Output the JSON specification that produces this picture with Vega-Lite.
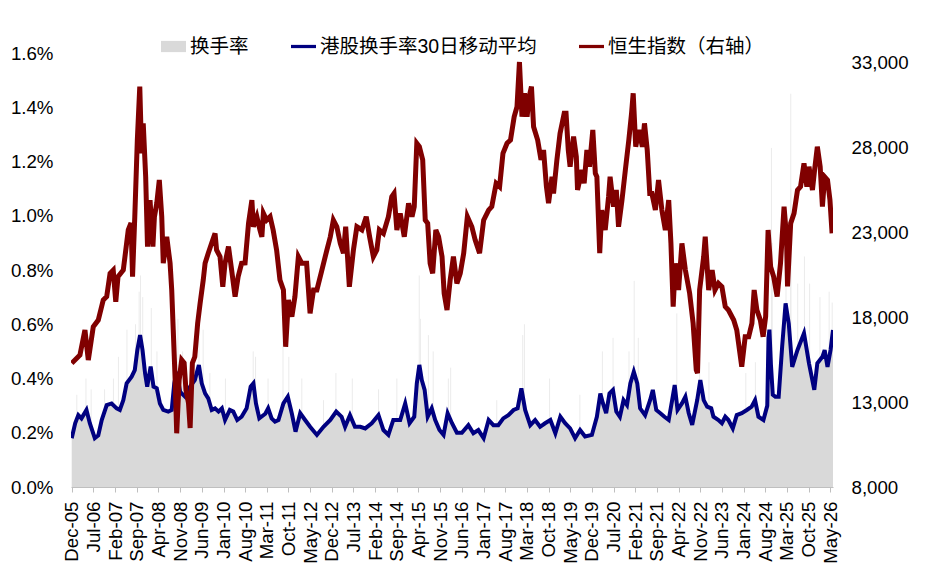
{
  "$schema": "https://vega.github.io/schema/vega-lite/v6.json",
  "autosize": {"type": "none"},
  "width": 762,
  "height": 434,
  "padding": {"left": 71, "top": 53, "right": 100, "bottom": 99},
  "background": "white",
  "config": {
    "view": {"stroke": null},
    "axis": {"labelFont": "Liberation Sans", "labelFontSize": 18.7, "labelColor": "#000", "grid": false, "title": null},
    "axisX": {"labelOverlap": false},
    "legend": {"labelFont": "Liberation Sans, Noto Sans CJK SC", "labelFontSize": 19.5, "labelColor": "#000", "labelLimit": 400}
  },
  "datasets": {
    "ma": [
      {"d":"2005-12-01","m":0.0018},{"d":"2006-01-04","m":0.00235},{"d":"2006-02-04","m":0.00265},{"d":"2006-03-07","m":0.00253},
      {"d":"2006-04-25","m":0.00284},{"d":"2006-05-28","m":0.00235},{"d":"2006-07-16","m":0.0018},{"d":"2006-08-19","m":0.0019},
      {"d":"2006-09-22","m":0.00247},{"d":"2006-11-10","m":0.00302},{"d":"2006-12-28","m":0.00308},{"d":"2007-02-16","m":0.0029},
      {"d":"2007-03-19","m":0.00284},{"d":"2007-04-22","m":0.0032},{"d":"2007-05-25","m":0.00382},{"d":"2007-07-13","m":0.00407},
      {"d":"2007-08-13","m":0.00431},{"d":"2007-09-07","m":0.00505},{"d":"2007-10-04","m":0.0056},{"d":"2007-10-28","m":0.00505},
      {"d":"2007-11-22","m":0.00419},{"d":"2007-12-13","m":0.0037},{"d":"2008-01-16","m":0.00444},{"d":"2008-02-13","m":0.0037},
      {"d":"2008-03-16","m":0.00364},{"d":"2008-04-16","m":0.00308},{"d":"2008-05-19","m":0.00284},{"d":"2008-07-07","m":0.00278},
      {"d":"2008-08-10","m":0.00284},{"d":"2008-09-04","m":0.00382},{"d":"2008-09-28","m":0.00425},{"d":"2008-11-01","m":0.00351},
      {"d":"2008-12-19","m":0.00333},{"d":"2009-02-07","m":0.0037},{"d":"2009-03-25","m":0.00394},{"d":"2009-05-04","m":0.0045},
      {"d":"2009-06-01","m":0.00382},{"d":"2009-07-04","m":0.00345},{"d":"2009-08-04","m":0.00327},{"d":"2009-09-07","m":0.00284},
      {"d":"2009-10-10","m":0.0029},{"d":"2009-11-13","m":0.00278},{"d":"2009-12-16","m":0.0029},{"d":"2010-01-16","m":0.00247},
      {"d":"2010-03-04","m":0.00284},{"d":"2010-04-07","m":0.00278},{"d":"2010-05-16","m":0.00247},{"d":"2010-06-28","m":0.00259},
      {"d":"2010-08-16","m":0.0029},{"d":"2010-09-25","m":0.0037},{"d":"2010-10-22","m":0.00382},{"d":"2010-11-16","m":0.00308},
      {"d":"2010-12-19","m":0.00253},{"d":"2011-02-16","m":0.0027},{"d":"2011-03-16","m":0.0029},{"d":"2011-04-19","m":0.00253},
      {"d":"2011-05-22","m":0.00241},{"d":"2011-06-25","m":0.00247},{"d":"2011-08-13","m":0.00308},{"d":"2011-09-25","m":0.00333},
      {"d":"2011-11-04","m":0.0027},{"d":"2011-12-10","m":0.00204},{"d":"2012-01-25","m":0.00272},{"d":"2012-03-13","m":0.00247},
      {"d":"2012-05-01","m":0.00222},{"d":"2012-07-07","m":0.00192},{"d":"2012-09-10","m":0.00222},{"d":"2012-11-16","m":0.00247},
      {"d":"2013-01-13","m":0.00278},{"d":"2013-03-07","m":0.00259},{"d":"2013-04-10","m":0.00222},{"d":"2013-05-28","m":0.00265},
      {"d":"2013-07-16","m":0.00222},{"d":"2013-09-07","m":0.00222},{"d":"2013-10-25","m":0.00216},{"d":"2013-12-28","m":0.00235},
      {"d":"2014-03-04","m":0.00265},{"d":"2014-04-22","m":0.0021},{"d":"2014-06-10","m":0.00192},{"d":"2014-07-28","m":0.00247},
      {"d":"2014-10-04","m":0.00247},{"d":"2014-11-22","m":0.00308},{"d":"2015-01-04","m":0.00235},{"d":"2015-02-19","m":0.00259},
      {"d":"2015-03-16","m":0.00382},{"d":"2015-04-10","m":0.0045},{"d":"2015-05-04","m":0.00394},{"d":"2015-06-01","m":0.00358},
      {"d":"2015-07-01","m":0.00259},{"d":"2015-08-10","m":0.0029},{"d":"2015-09-13","m":0.00247},{"d":"2015-10-25","m":0.0021},
      {"d":"2015-12-04","m":0.00192},{"d":"2016-01-13","m":0.00272},{"d":"2016-02-25","m":0.00235},{"d":"2016-04-13","m":0.002},
      {"d":"2016-06-01","m":0.002},{"d":"2016-08-04","m":0.00228},{"d":"2016-09-22","m":0.00198},{"d":"2016-11-10","m":0.0021},
      {"d":"2017-01-01","m":0.0018},{"d":"2017-02-19","m":0.00247},{"d":"2017-04-07","m":0.00228},{"d":"2017-05-25","m":0.00228},
      {"d":"2017-07-13","m":0.00253},{"d":"2017-09-01","m":0.00265},{"d":"2017-10-22","m":0.00284},{"d":"2017-12-01","m":0.0029},
      {"d":"2018-01-07","m":0.00364},{"d":"2018-02-13","m":0.00284},{"d":"2018-04-04","m":0.00228},{"d":"2018-05-22","m":0.00247},
      {"d":"2018-07-10","m":0.00222},{"d":"2018-08-28","m":0.00235},{"d":"2018-10-19","m":0.00247},{"d":"2018-12-07","m":0.00198},
      {"d":"2019-01-25","m":0.00259},{"d":"2019-03-13","m":0.00235},{"d":"2019-05-01","m":0.00216},{"d":"2019-06-19","m":0.0018},
      {"d":"2019-08-07","m":0.0021},{"d":"2019-09-25","m":0.00186},{"d":"2019-12-01","m":0.00192},{"d":"2020-01-19","m":0.00259},
      {"d":"2020-02-22","m":0.00345},{"d":"2020-03-19","m":0.00308},{"d":"2020-04-19","m":0.00272},{"d":"2020-05-22","m":0.00345},
      {"d":"2020-06-25","m":0.00358},{"d":"2020-07-28","m":0.00278},{"d":"2020-09-01","m":0.00259},{"d":"2020-10-07","m":0.0032},
      {"d":"2020-11-10","m":0.00302},{"d":"2020-12-13","m":0.00382},{"d":"2021-01-16","m":0.00425},{"d":"2021-02-19","m":0.00382},
      {"d":"2021-03-19","m":0.0029},{"d":"2021-05-07","m":0.00265},{"d":"2021-06-25","m":0.0032},{"d":"2021-07-22","m":0.00358},
      {"d":"2021-08-25","m":0.00284},{"d":"2021-10-04","m":0.00272},{"d":"2021-11-13","m":0.00259},{"d":"2021-12-25","m":0.00247},
      {"d":"2022-01-28","m":0.0032},{"d":"2022-02-22","m":0.00376},{"d":"2022-03-22","m":0.00284},{"d":"2022-05-04","m":0.00308},
      {"d":"2022-06-07","m":0.00333},{"d":"2022-07-10","m":0.00272},{"d":"2022-08-13","m":0.00229},{"d":"2022-10-01","m":0.0032},
      {"d":"2022-11-01","m":0.00394},{"d":"2022-12-04","m":0.0032},{"d":"2023-01-07","m":0.00296},{"d":"2023-02-16","m":0.0029},
      {"d":"2023-03-10","m":0.00259},{"d":"2023-04-28","m":0.00247},{"d":"2023-06-01","m":0.00235},{"d":"2023-07-04","m":0.00259},
      {"d":"2023-08-04","m":0.00247},{"d":"2023-09-16","m":0.00216},{"d":"2023-10-25","m":0.00265},{"d":"2023-12-13","m":0.00272},
      {"d":"2024-02-01","m":0.00284},{"d":"2024-03-19","m":0.00296},{"d":"2024-04-22","m":0.0032},{"d":"2024-05-25","m":0.00259},
      {"d":"2024-07-13","m":0.00247},{"d":"2024-08-20","m":0.003},{"d":"2024-09-01","m":0.0055},{"d":"2024-09-10","m":0.0058},
      {"d":"2024-09-25","m":0.0045},{"d":"2024-10-13","m":0.0034},{"d":"2024-11-07","m":0.00333},{"d":"2024-12-10","m":0.00333},
      {"d":"2025-01-13","m":0.00517},{"d":"2025-02-16","m":0.00677},{"d":"2025-03-19","m":0.00603},{"d":"2025-04-22","m":0.00443},
      {"d":"2025-06-13","m":0.00505},{"d":"2025-08-16","m":0.00567},{"d":"2025-10-04","m":0.00456},{"d":"2025-11-25","m":0.00358},
      {"d":"2025-12-25","m":0.00456},{"d":"2026-02-13","m":0.0048},{"d":"2026-03-07","m":0.00505},{"d":"2026-04-04","m":0.00443},
      {"d":"2026-05-04","m":0.00505},{"d":"2026-05-28","m":0.00579}
    ],
    "spikes": [
      {"d":"2006-01-20","s":0.0034},{"d":"2006-04-20","s":0.004},{"d":"2006-06-10","s":0.0036},{"d":"2006-10-20","s":0.0036},
      {"d":"2007-01-15","s":0.004},{"d":"2007-03-05","s":0.0048},{"d":"2007-05-28","s":0.0058},{"d":"2007-08-20","s":0.006},
      {"d":"2007-09-25","s":0.0072},{"d":"2007-10-08","s":0.0078},{"d":"2007-10-30","s":0.007},{"d":"2008-01-22","s":0.0066},
      {"d":"2008-03-18","s":0.005},{"d":"2008-09-18","s":0.0058},{"d":"2008-10-10","s":0.0062},{"d":"2008-11-25","s":0.005},
      {"d":"2009-05-05","s":0.0064},{"d":"2009-06-15","s":0.0058},{"d":"2009-08-20","s":0.0042},{"d":"2010-01-20","s":0.004},
      {"d":"2010-10-20","s":0.005},{"d":"2010-11-12","s":0.0048},{"d":"2011-03-15","s":0.004},{"d":"2011-08-09","s":0.0054},
      {"d":"2011-10-05","s":0.0048},{"d":"2012-02-10","s":0.004},{"d":"2012-09-10","s":0.0032},{"d":"2013-01-10","s":0.0042},
      {"d":"2013-06-20","s":0.004},{"d":"2014-03-05","s":0.0036},{"d":"2014-09-01","s":0.004},{"d":"2015-04-09","s":0.0078},
      {"d":"2015-04-20","s":0.0062},{"d":"2015-07-08","s":0.0056},{"d":"2015-08-24","s":0.005},{"d":"2016-01-20","s":0.004},
      {"d":"2016-02-12","s":0.0044},{"d":"2017-05-10","s":0.0032},{"d":"2018-01-20","s":0.0056},{"d":"2018-02-06","s":0.006},
      {"d":"2018-10-11","s":0.004},{"d":"2019-08-05","s":0.0034},{"d":"2020-03-13","s":0.005},{"d":"2020-06-26","s":0.0055},
      {"d":"2020-11-30","s":0.005},{"d":"2021-01-20","s":0.0076},{"d":"2021-03-01","s":0.0055},{"d":"2022-03-15","s":0.0064},
      {"d":"2022-10-25","s":0.006},{"d":"2023-01-25","s":0.0046},{"d":"2024-01-22","s":0.0042},{"d":"2024-04-25","s":0.0046},
      {"d":"2024-09-30","s":0.0125},{"d":"2024-10-08","s":0.009},{"d":"2025-02-20","s":0.008},{"d":"2025-04-08","s":0.0145},
      {"d":"2025-04-09","s":0.011},{"d":"2025-06-15","s":0.0075},{"d":"2025-08-20","s":0.0085},{"d":"2025-10-10","s":0.0075},
      {"d":"2026-01-20","s":0.007},{"d":"2026-04-20","s":0.0072},{"d":"2026-05-20","s":0.0068}
    ],
    "hsi": [
      {"d":"2005-12-01","h":15280},{"d":"2006-02-20","h":15760},{"d":"2006-04-10","h":17235},{"d":"2006-05-13","h":15470},
      {"d":"2006-07-01","h":17430},{"d":"2006-08-19","h":17820},{"d":"2006-10-07","h":19000},{"d":"2006-11-10","h":19200},
      {"d":"2006-12-13","h":20570},{"d":"2007-01-13","h":20760},{"d":"2007-02-07","h":18900},{"d":"2007-03-01","h":20370},
      {"d":"2007-04-22","h":20760},{"d":"2007-06-10","h":23120},{"d":"2007-07-07","h":23530},{"d":"2007-07-22","h":20370},
      {"d":"2007-08-13","h":23900},{"d":"2007-09-07","h":28410},{"d":"2007-10-01","h":31550},{"d":"2007-10-19","h":27630},
      {"d":"2007-11-04","h":29390},{"d":"2007-11-28","h":26250},{"d":"2007-12-16","h":22140},{"d":"2008-01-10","h":24880},
      {"d":"2008-02-07","h":22140},{"d":"2008-02-22","h":23900},{"d":"2008-03-16","h":24690},{"d":"2008-04-10","h":26060},
      {"d":"2008-05-04","h":23900},{"d":"2008-05-19","h":21160},{"d":"2008-06-22","h":22720},{"d":"2008-07-25","h":21160},
      {"d":"2008-08-10","h":19590},{"d":"2008-08-25","h":17235},{"d":"2008-09-13","h":14290},{"d":"2008-09-28","h":11160},
      {"d":"2008-10-22","h":14290},{"d":"2008-11-16","h":15470},{"d":"2008-12-10","h":15290},{"d":"2008-12-28","h":13700},
      {"d":"2009-01-22","h":12940},{"d":"2009-02-07","h":11470},{"d":"2009-03-01","h":15290},{"d":"2009-03-25","h":15660},
      {"d":"2009-04-22","h":17630},{"d":"2009-05-16","h":18800},{"d":"2009-06-16","h":20180},{"d":"2009-07-04","h":21160},
      {"d":"2009-08-04","h":21750},{"d":"2009-09-07","h":22350},{"d":"2009-10-10","h":22920},{"d":"2009-10-25","h":21940},
      {"d":"2009-11-28","h":21550},{"d":"2009-12-25","h":19780},{"d":"2010-01-16","h":21160},{"d":"2010-02-19","h":22140},
      {"d":"2010-03-22","h":20760},{"d":"2010-04-25","h":19200},{"d":"2010-05-25","h":20370},{"d":"2010-06-28","h":21160},
      {"d":"2010-08-01","h":21180},{"d":"2010-09-04","h":23510},{"d":"2010-10-07","h":24880},{"d":"2010-10-22","h":23310},
      {"d":"2010-11-25","h":23900},{"d":"2010-12-25","h":23120},{"d":"2011-01-13","h":22720},{"d":"2011-01-28","h":24100},
      {"d":"2011-03-01","h":23700},{"d":"2011-04-04","h":23900},{"d":"2011-05-04","h":23120},{"d":"2011-06-07","h":21940},
      {"d":"2011-07-10","h":20180},{"d":"2011-08-13","h":19590},{"d":"2011-09-04","h":16250},{"d":"2011-10-01","h":19000},
      {"d":"2011-11-04","h":18020},{"d":"2011-12-04","h":19200},{"d":"2012-01-07","h":21550},{"d":"2012-02-10","h":21160},
      {"d":"2012-03-28","h":21160},{"d":"2012-05-01","h":18220},{"d":"2012-06-04","h":19590},{"d":"2012-07-07","h":19590},
      {"d":"2012-08-25","h":20760},{"d":"2012-10-13","h":21940},{"d":"2012-11-16","h":22720},{"d":"2012-12-16","h":23700},
      {"d":"2013-01-19","h":23310},{"d":"2013-02-22","h":22330},{"d":"2013-03-25","h":21750},{"d":"2013-04-16","h":23310},
      {"d":"2013-05-22","h":19780},{"d":"2013-07-01","h":21940},{"d":"2013-08-04","h":23310},{"d":"2013-09-22","h":23120},
      {"d":"2013-11-04","h":23900},{"d":"2013-12-07","h":22720},{"d":"2014-01-13","h":21550},{"d":"2014-02-16","h":21940},
      {"d":"2014-03-13","h":23120},{"d":"2014-04-22","h":22920},{"d":"2014-06-10","h":23900},{"d":"2014-07-13","h":25080},
      {"d":"2014-08-04","h":25270},{"d":"2014-09-01","h":23120},{"d":"2014-10-04","h":24100},{"d":"2014-11-13","h":22720},
      {"d":"2014-12-25","h":24690},{"d":"2015-01-28","h":23900},{"d":"2015-02-19","h":24490},{"d":"2015-03-16","h":28220},
      {"d":"2015-04-10","h":28020},{"d":"2015-05-13","h":27240},{"d":"2015-06-07","h":23700},{"d":"2015-07-01","h":23510},
      {"d":"2015-07-25","h":21160},{"d":"2015-08-19","h":20570},{"d":"2015-09-19","h":23120},{"d":"2015-10-16","h":22720},
      {"d":"2015-11-19","h":21550},{"d":"2015-12-10","h":19390},{"d":"2016-01-07","h":18410},{"d":"2016-02-07","h":20180},
      {"d":"2016-03-10","h":21550},{"d":"2016-04-13","h":19980},{"d":"2016-05-16","h":20570},{"d":"2016-06-19","h":21750},
      {"d":"2016-07-25","h":23900},{"d":"2016-09-07","h":23310},{"d":"2016-10-10","h":22530},{"d":"2016-11-22","h":21750},
      {"d":"2017-01-01","h":23700},{"d":"2017-02-19","h":24290},{"d":"2017-03-22","h":24490},{"d":"2017-05-04","h":25860},
      {"d":"2017-06-07","h":25670},{"d":"2017-07-10","h":27630},{"d":"2017-08-19","h":28220},{"d":"2017-09-22","h":28410},
      {"d":"2017-10-28","h":29780},{"d":"2017-11-25","h":30370},{"d":"2017-12-19","h":33000},{"d":"2018-01-13","h":29780},
      {"d":"2018-02-07","h":31160},{"d":"2018-03-04","h":29780},{"d":"2018-03-25","h":30960},{"d":"2018-04-16","h":31550},
      {"d":"2018-05-07","h":29190},{"d":"2018-06-16","h":28410},{"d":"2018-07-19","h":27240},{"d":"2018-08-13","h":27820},
      {"d":"2018-09-10","h":25670},{"d":"2018-10-01","h":24690},{"d":"2018-11-04","h":26250},{"d":"2018-11-19","h":25270},
      {"d":"2018-12-22","h":27240},{"d":"2019-01-22","h":28800},{"d":"2019-03-04","h":29980},{"d":"2019-03-22","h":29980},
      {"d":"2019-04-13","h":27820},{"d":"2019-05-01","h":26840},{"d":"2019-06-04","h":28610},{"d":"2019-07-01","h":27430},
      {"d":"2019-07-13","h":25470},{"d":"2019-08-25","h":26650},{"d":"2019-09-16","h":25860},{"d":"2019-10-13","h":27820},
      {"d":"2019-11-07","h":26840},{"d":"2019-12-10","h":29000},{"d":"2020-01-04","h":26450},{"d":"2020-01-19","h":26250},
      {"d":"2020-02-16","h":21750},{"d":"2020-03-07","h":24290},{"d":"2020-04-10","h":23120},{"d":"2020-05-13","h":25080},
      {"d":"2020-05-28","h":26250},{"d":"2020-07-01","h":24490},{"d":"2020-07-28","h":25470},{"d":"2020-08-19","h":23310},
      {"d":"2020-09-22","h":24880},{"d":"2020-10-25","h":26650},{"d":"2020-11-28","h":28410},{"d":"2020-12-25","h":29980},
      {"d":"2021-01-10","h":31160},{"d":"2021-02-04","h":28020},{"d":"2021-03-07","h":29000},{"d":"2021-04-10","h":28020},
      {"d":"2021-05-01","h":29390},{"d":"2021-05-28","h":27820},{"d":"2021-06-22","h":25270},{"d":"2021-07-13","h":25270},
      {"d":"2021-08-16","h":24290},{"d":"2021-09-16","h":26060},{"d":"2021-10-19","h":24290},{"d":"2021-11-22","h":23120},
      {"d":"2021-12-25","h":24880},{"d":"2022-01-16","h":22330},{"d":"2022-02-07","h":18610},{"d":"2022-02-28","h":21160},
      {"d":"2022-04-01","h":19590},{"d":"2022-05-04","h":22330},{"d":"2022-06-07","h":20760},{"d":"2022-07-19","h":19390},
      {"d":"2022-08-22","h":17630},{"d":"2022-09-22","h":14880},{"d":"2022-10-04","h":14700},{"d":"2022-10-25","h":19590},
      {"d":"2022-12-04","h":21550},{"d":"2022-12-19","h":22720},{"d":"2023-01-22","h":19590},{"d":"2023-02-25","h":20760},
      {"d":"2023-03-25","h":19590},{"d":"2023-04-28","h":19980},{"d":"2023-06-01","h":19780},{"d":"2023-07-04","h":18610},
      {"d":"2023-08-04","h":18410},{"d":"2023-09-25","h":17820},{"d":"2023-10-25","h":17235},{"d":"2023-12-13","h":15080},
      {"d":"2024-01-16","h":16840},{"d":"2024-02-19","h":16840},{"d":"2024-03-22","h":17630},{"d":"2024-04-13","h":19590},
      {"d":"2024-05-10","h":18410},{"d":"2024-06-13","h":17820},{"d":"2024-07-10","h":16840},{"d":"2024-08-04","h":18020},
      {"d":"2024-08-28","h":23120},{"d":"2024-09-22","h":20960},{"d":"2024-10-22","h":20370},{"d":"2024-11-25","h":19200},
      {"d":"2024-12-28","h":21160},{"d":"2025-02-01","h":24490},{"d":"2025-02-25","h":22720},{"d":"2025-03-07","h":19800},
      {"d":"2025-04-07","h":23510},{"d":"2025-05-10","h":24100},{"d":"2025-06-13","h":25470},{"d":"2025-07-13","h":25670},
      {"d":"2025-08-16","h":27040},{"d":"2025-09-13","h":25670},{"d":"2025-10-04","h":26840},{"d":"2025-11-07","h":25470},
      {"d":"2025-11-28","h":26650},{"d":"2025-12-25","h":28020},{"d":"2026-01-22","h":26840},{"d":"2026-02-13","h":24490},
      {"d":"2026-03-07","h":26250},{"d":"2026-04-04","h":26060},{"d":"2026-04-28","h":24880},{"d":"2026-05-19","h":22920}
    ]
  },
  "encoding": {
    "x": {
      "field": "d", "type": "temporal",
      "scale": {"type": "utc", "domain": [{"year": 2005, "month": 11, "date": 24, "utc": true}, {"year": 2026, "month": 5, "date": 28, "utc": true}]},
      "axis": {
        "format": "%b-%y", "labelAngle": -90, "labelAlign": "right", "labelBaseline": "middle",
        "tickSize": 5, "tickColor": "#bfbfbf", "domainColor": "#bfbfbf", "labelPadding": 9,
        "labelOverlap": false, "labelFlush": false, "labelBound": false,
        "values": [
          {"year":2005,"month":12,"date":1,"utc":true},{"year":2006,"month":7,"date":1,"utc":true},{"year":2007,"month":2,"date":1,"utc":true},
          {"year":2007,"month":9,"date":1,"utc":true},{"year":2008,"month":4,"date":1,"utc":true},{"year":2008,"month":11,"date":1,"utc":true},
          {"year":2009,"month":6,"date":1,"utc":true},{"year":2010,"month":1,"date":1,"utc":true},{"year":2010,"month":8,"date":1,"utc":true},
          {"year":2011,"month":3,"date":1,"utc":true},{"year":2011,"month":10,"date":1,"utc":true},{"year":2012,"month":5,"date":1,"utc":true},
          {"year":2012,"month":12,"date":1,"utc":true},{"year":2013,"month":7,"date":1,"utc":true},{"year":2014,"month":2,"date":1,"utc":true},
          {"year":2014,"month":9,"date":1,"utc":true},{"year":2015,"month":4,"date":1,"utc":true},{"year":2015,"month":11,"date":1,"utc":true},
          {"year":2016,"month":6,"date":1,"utc":true},{"year":2017,"month":1,"date":1,"utc":true},{"year":2017,"month":8,"date":1,"utc":true},
          {"year":2018,"month":3,"date":1,"utc":true},{"year":2018,"month":10,"date":1,"utc":true},{"year":2019,"month":5,"date":1,"utc":true},
          {"year":2019,"month":12,"date":1,"utc":true},{"year":2020,"month":7,"date":1,"utc":true},{"year":2021,"month":2,"date":1,"utc":true},
          {"year":2021,"month":9,"date":1,"utc":true},{"year":2022,"month":4,"date":1,"utc":true},{"year":2022,"month":11,"date":1,"utc":true},
          {"year":2023,"month":6,"date":1,"utc":true},{"year":2024,"month":1,"date":1,"utc":true},{"year":2024,"month":8,"date":1,"utc":true},
          {"year":2025,"month":3,"date":1,"utc":true},{"year":2025,"month":10,"date":1,"utc":true},{"year":2026,"month":5,"date":1,"utc":true}
        ]
      }
    }
  },
  "layer": [
    {
      "layer": [
        {
          "data": {"name": "spikes"},
          "mark": {"type": "rule", "color": "#ebebeb", "strokeWidth": 1, "clip": true},
          "encoding": {
            "y": {"field": "s", "type": "quantitative"},
            "y2": {"datum": 0}
          }
        },
        {
          "data": {"name": "ma"},
          "mark": {"type": "area", "clip": true, "interpolate": "linear"},
          "encoding": {
            "y": {
              "field": "m", "type": "quantitative",
              "scale": {"domain": [0, 0.016], "nice": false, "zero": true},
              "axis": {"orient": "left", "format": ".1%", "values": [0, 0.002, 0.004, 0.006, 0.008, 0.01, 0.012, 0.014, 0.016], "ticks": false, "tickSize": 0, "domain": false, "labelPadding": 18}
            },
            "color": {
              "datum": "换手率", "type": "nominal",
              "scale": {"domain": ["换手率", "港股换手率30日移动平均", "恒生指数（右轴）"], "range": ["#d9d9d9", "#000080", "#800000"]},
              "legend": {
                "title": null, "orient": "none", "legendX": 90, "legendY": -19, "direction": "horizontal",
                "padding": 0, "symbolSize": 625, "labelOffset": 4, "columnPadding": 42,
                "encode": {
                  "symbols": {
                    "update": {
                      "shape": {"signal": "datum.value === '换手率' ? 'M-1,-0.45H1V0.45H-1Z' : 'M-1,-0.13H1V0.13H-1Z'"},
                      "fill": {"scale": "color", "field": "value"},
                      "stroke": {"value": "transparent"},
                      "strokeWidth": {"value": 0},
                      "opacity": {"value": 1}
                    }
                  }
                }
              }
            }
          }
        },
        {
          "data": {"name": "ma"},
          "mark": {"type": "line", "strokeWidth": 4, "clip": true},
          "encoding": {
            "y": {"field": "m", "type": "quantitative"},
            "color": {"datum": "港股换手率30日移动平均", "type": "nominal"}
          }
        }
      ]
    },
    {
      "data": {"name": "hsi"},
      "mark": {"type": "line", "strokeWidth": 5, "clip": true},
      "encoding": {
        "y": {
          "field": "h", "type": "quantitative",
          "scale": {"domain": [8000, 33530], "nice": false, "zero": false},
          "axis": {"orient": "right", "format": ",.0f", "values": [8000, 13000, 18000, 23000, 28000, 33000], "ticks": false, "tickSize": 0, "domain": false, "labelPadding": 18}
        },
        "color": {"datum": "恒生指数（右轴）", "type": "nominal"}
      }
    }
  ],
  "resolve": {"scale": {"y": "independent"}}
}
